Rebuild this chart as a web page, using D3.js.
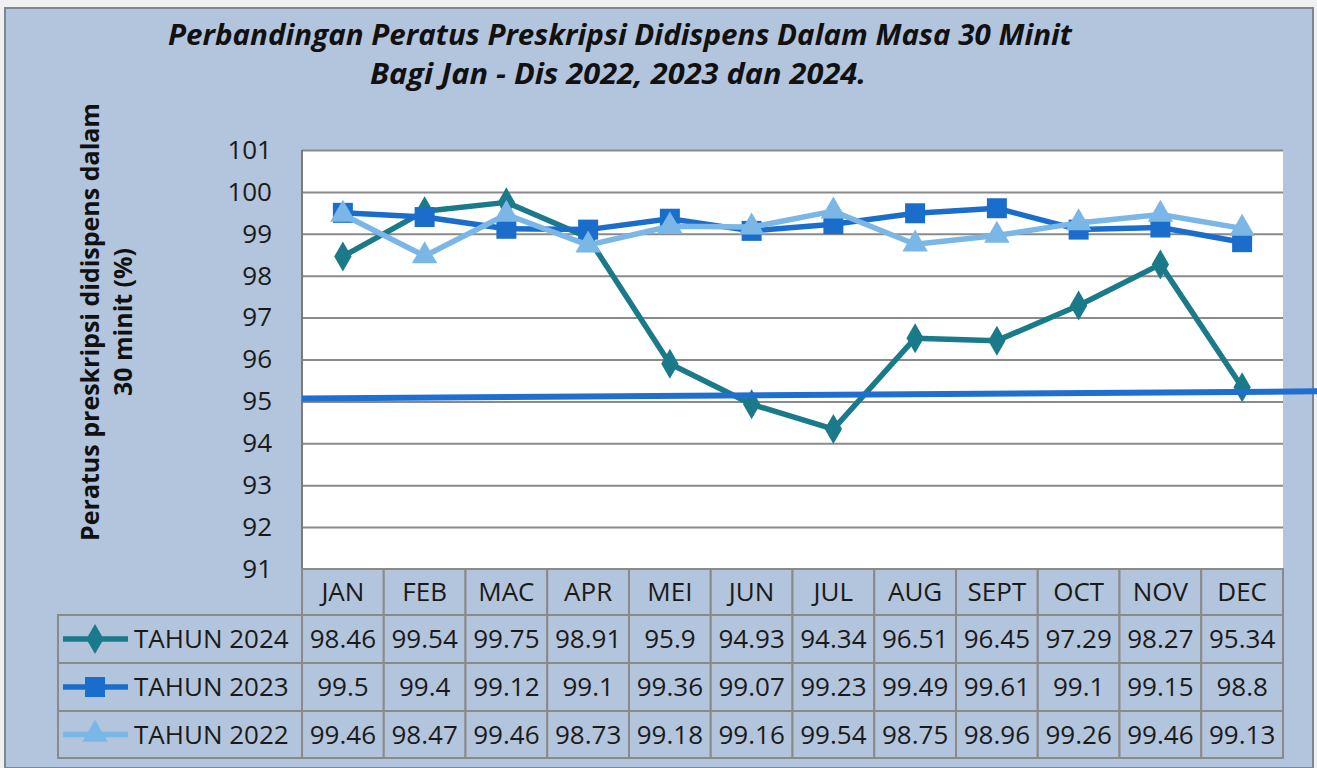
<!DOCTYPE html>
<html><head><meta charset="utf-8">
<script src="https://cdn.jsdelivr.net/npm/d3@7"></script>
<style>
html,body{margin:0;padding:0;background:#f2f2f2;}
svg{display:block;}
</style></head>
<body>
<svg id="chart" width="1317" height="768"></svg>
<script>
const categories = ["JAN","FEB","MAC","APR","MEI","JUN","JUL","AUG","SEPT","OCT","NOV","DEC"];
const seriesNames = ["TAHUN 2024","TAHUN 2023","TAHUN 2022"];
const values2024 = [98.46,99.54,99.75,98.91,95.9,94.93,94.34,96.51,96.45,97.29,98.27,95.34];
const values2023 = [99.5,99.4,99.12,99.1,99.36,99.07,99.23,99.49,99.61,99.1,99.15,98.8];
const values2022 = [99.46,98.47,99.46,98.73,99.18,99.16,99.54,98.75,98.96,99.26,99.46,99.13];
const valueLabels2024 = ["98.46","99.54","99.75","98.91","95.9","94.93","94.34","96.51","96.45","97.29","98.27","95.34"];
const valueLabels2023 = ["99.5","99.4","99.12","99.1","99.36","99.07","99.23","99.49","99.61","99.1","99.15","98.8"];
const valueLabels2022 = ["99.46","98.47","99.46","98.73","99.18","99.16","99.54","98.75","98.96","99.26","99.46","99.13"];
const yTicks = [91,92,93,94,95,96,97,98,99,100,101];
const targetLine = [95.07, 95.24]; // drawn target at ~95%
const titleLines = ["Perbandingan Peratus Preskripsi Didispens Dalam Masa 30 Minit","Bagi Jan - Dis  2022, 2023 dan 2024."];
const yTitleLines = ["Peratus preskripsi didispens dalam","30 minit (%)"];

const svg = d3.select("#chart");
const W = 1317, H = 768;
const panelFill = "#b3c5dc";
const font = "'Open Sans', 'Noto Sans', sans-serif";
const fs = 26;

// panel
svg.append("rect").attr("x",0).attr("y",0).attr("width",W).attr("height",H).attr("fill","#f0f0f0");
svg.append("rect").attr("x",5).attr("y",8).attr("width",1308).attr("height",H-8)
  .attr("fill",panelFill).attr("stroke","#7d8794").attr("stroke-width",2);

const plot = {l:302, r:1283, t:150, b:569};
const x = d3.scaleBand().domain(categories).range([plot.l, plot.r]);
const y = d3.scaleLinear().domain([91,101]).range([plot.b, plot.t]);

// plot area
svg.append("rect").attr("x",plot.l).attr("y",plot.t).attr("width",plot.r-plot.l).attr("height",plot.b-plot.t).attr("fill","#ffffff");

// gridlines
const grid = svg.append("g").attr("transform",`translate(${plot.l},0)`)
  .call(d3.axisLeft(y).tickValues(yTicks).tickSize(-(plot.r-plot.l)).tickFormat(""));
grid.select(".domain").remove();
grid.selectAll("line").attr("stroke","#8a8a8a").attr("stroke-width",2);

// left border of plot
svg.append("line").attr("x1",plot.l).attr("x2",plot.l).attr("y1",plot.t).attr("y2",plot.b)
  .attr("stroke","#7a7a7a").attr("stroke-width",2);

// y axis labels
const yAxis = svg.append("g").attr("transform",`translate(${plot.l},0)`)
  .call(d3.axisLeft(y).tickValues(yTicks).tickSize(0).tickPadding(30).tickFormat(d3.format("d")));
yAxis.select(".domain").remove();
yAxis.selectAll("text").attr("font-family",font).attr("font-size",fs).attr("fill","#1a1a1a");

// y title
const yt = svg.append("text").attr("transform","translate(99,322) rotate(-90)")
  .attr("text-anchor","middle").attr("font-family",font).attr("font-weight","bold").attr("font-size",25).attr("fill","#111");
yt.append("tspan").attr("x",0).attr("dy",0).text(yTitleLines[0]);
yt.append("tspan").attr("x",0).attr("dy",33).text(yTitleLines[1]);

// title
svg.append("text").attr("x",620).attr("y",45).attr("text-anchor","middle")
  .attr("font-family",font).attr("font-weight","bold").attr("font-style","italic").attr("font-size",28)
  .attr("textLength",904).attr("lengthAdjust","spacingAndGlyphs").attr("fill","#111").text(titleLines[0]);
svg.append("text").attr("x",618).attr("y",84).attr("text-anchor","middle")
  .attr("font-family",font).attr("font-weight","bold").attr("font-style","italic").attr("font-size",28)
  .attr("textLength",496).attr("lengthAdjust","spacingAndGlyphs").attr("fill","#111").text(titleLines[1]);

// series
const series = [
  {name:seriesNames[0], values:values2024, labels:valueLabels2024, color:"#1a7a89", shape:d3.symbolDiamond, size:260},
  {name:seriesNames[1], values:values2023, labels:valueLabels2023, color:"#1b6dcc", shape:d3.symbolSquare, size:400},
  {name:seriesNames[2], values:values2022, labels:valueLabels2022, color:"#7ab7e7", shape:d3.symbolTriangle, size:280}
];
const cx = c => x(c) + x.bandwidth()/2;
const line = d3.line().x((d,i)=>cx(categories[i])).y(d=>y(d));
series.forEach(s=>{
  const g = svg.append("g");
  g.append("path").attr("d",line(s.values)).attr("fill","none").attr("stroke",s.color).attr("stroke-width",5.5).attr("stroke-linejoin","round");
  g.selectAll("path.m").data(s.values).join("path").attr("class","m")
    .attr("d",d3.symbol().type(s.shape).size(s.size))
    .attr("transform",(d,i)=>`translate(${cx(categories[i])},${y(d)})`)
    .attr("fill",s.color);
});

// target line
svg.append("line").attr("x1",plot.l).attr("x2",W).attr("y1",y(targetLine[0])).attr("y2",y(targetLine[1]))
  .attr("stroke","#1f6fd1").attr("stroke-width",6);

// data table
const tableLeft = 58;
const hdrTop = 569, hdrBot = 615;
const rowBounds = [[615,663],[663,711],[711,758]];
const cellStroke = "#8a8a8a";
const tg = svg.append("g");
// header
categories.forEach(c=>{
  tg.append("rect").attr("x",x(c)).attr("y",hdrTop).attr("width",x.bandwidth()).attr("height",hdrBot-hdrTop)
    .attr("fill",panelFill).attr("stroke",cellStroke).attr("stroke-width",2);
  tg.append("text").attr("x",cx(c)).attr("y",(hdrTop+hdrBot)/2+9).attr("text-anchor","middle")
    .attr("font-family",font).attr("font-size",fs).attr("fill","#1a1a1a").text(c);
});
series.forEach((s,si)=>{
  const [t,b] = rowBounds[si];
  const mid = (t+b)/2;
  tg.append("rect").attr("x",tableLeft).attr("y",t).attr("width",plot.l-tableLeft).attr("height",b-t)
    .attr("fill",panelFill).attr("stroke",cellStroke).attr("stroke-width",2);
  tg.append("line").attr("x1",63).attr("x2",128).attr("y1",mid).attr("y2",mid).attr("stroke",s.color).attr("stroke-width",5.5);
  tg.append("path").attr("d",d3.symbol().type(s.shape).size(s.size)).attr("transform",`translate(95,${mid})`).attr("fill",s.color);
  tg.append("text").attr("x",134).attr("y",mid+9).attr("font-family",font).attr("font-size",fs).attr("fill","#1a1a1a").text(s.name);
  categories.forEach((c,i)=>{
    tg.append("rect").attr("x",x(c)).attr("y",t).attr("width",x.bandwidth()).attr("height",b-t)
      .attr("fill",panelFill).attr("stroke",cellStroke).attr("stroke-width",2);
    tg.append("text").attr("x",cx(c)).attr("y",mid+9).attr("text-anchor","middle")
      .attr("font-family",font).attr("font-size",fs).attr("fill","#1a1a1a").text(s.labels[i]);
  });
});
</script>
</body></html>
